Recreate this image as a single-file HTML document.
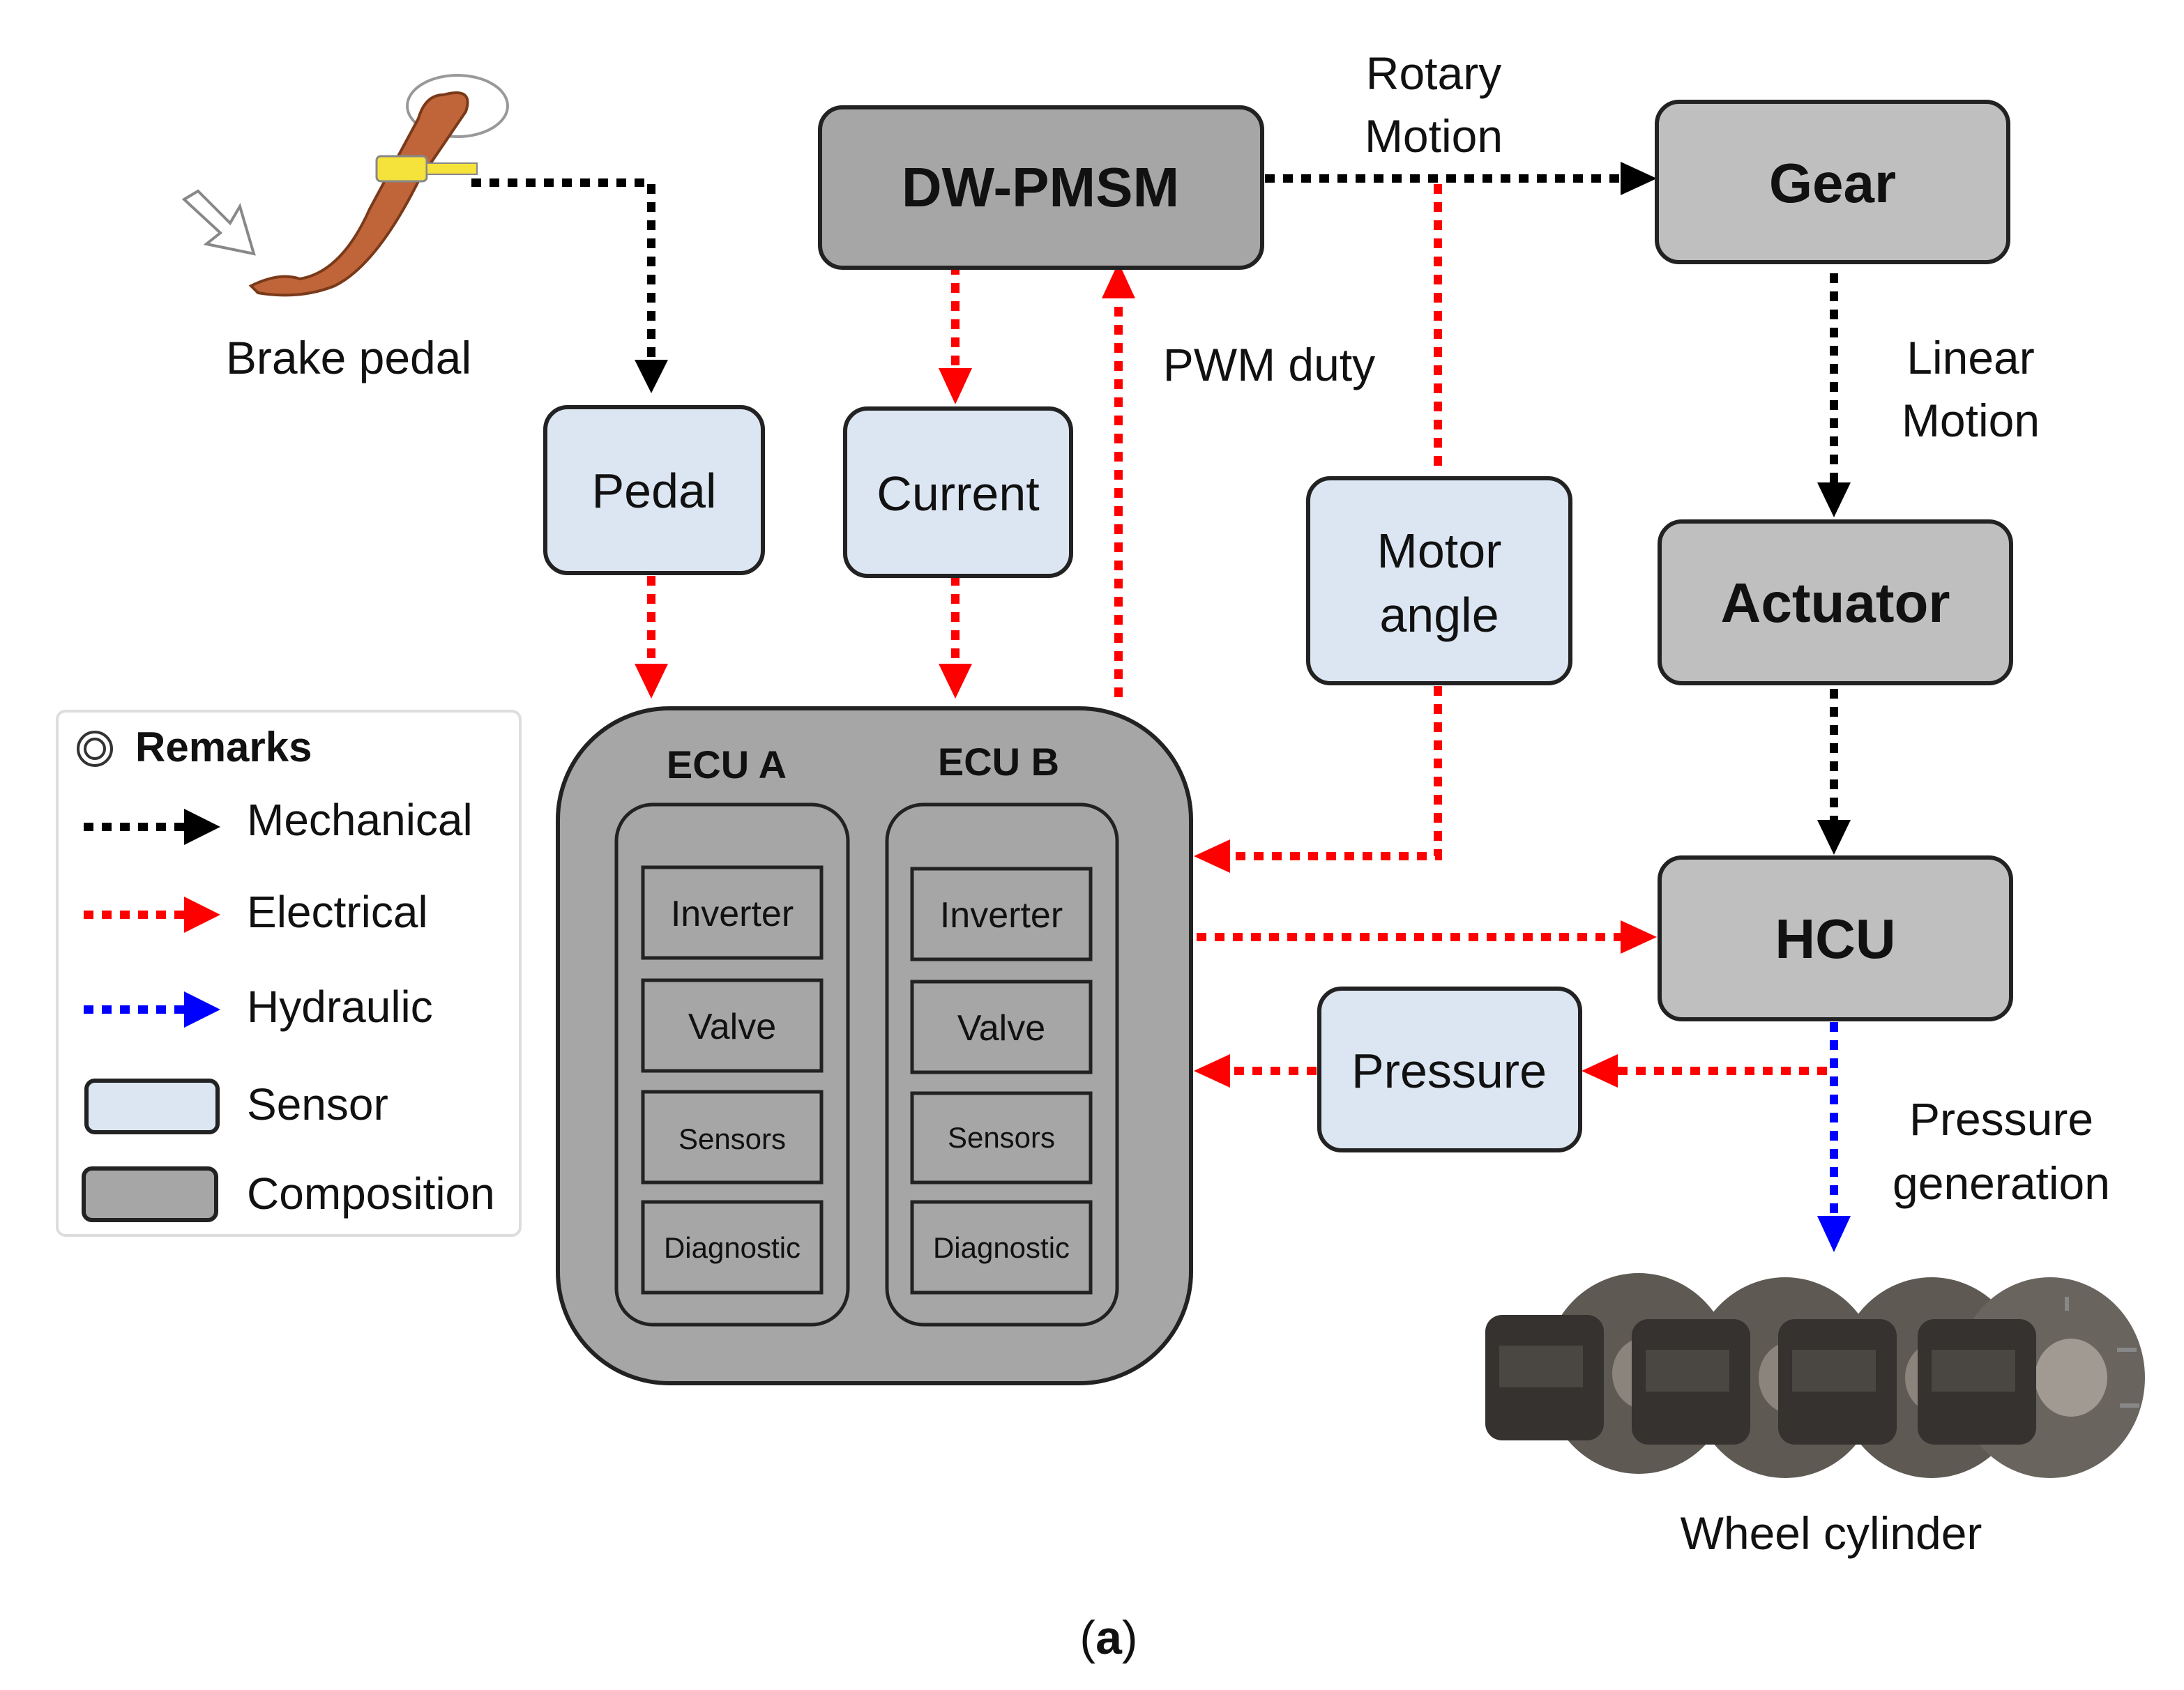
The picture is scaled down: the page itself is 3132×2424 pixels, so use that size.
<!DOCTYPE html>
<html><head><meta charset="utf-8"><style>
html,body{margin:0;padding:0;background:#fff;}
svg{display:block;}
text{font-family:"Liberation Sans","DejaVu Sans",sans-serif;}
</style></head><body>
<svg width="3132" height="2424" viewBox="0 0 1566 1212" xmlns="http://www.w3.org/2000/svg">
<rect width="1566" height="1212" fill="#fff"/>

<!-- connectors -->
<g fill="none" stroke-width="6" stroke-dasharray="7 6">
 <path d="M338,131 H467 V262" stroke="#000"/>
 <path d="M907,128 H1165" stroke="#000"/>
 <path d="M1315,196 V350" stroke="#000"/>
 <path d="M1315,494 V592" stroke="#000"/>
 <path d="M685,190 V268" stroke="#f00"/>
 <path d="M802,500 V212" stroke="#f00"/>
 <path d="M467,413 V480" stroke="#f00"/>
 <path d="M685,413 V480" stroke="#f00"/>
 <path d="M1031,132 V340" stroke="#f00"/>
 <path d="M1031,492 V614 H878" stroke="#f00"/>
 <path d="M858,672 H1166" stroke="#f00"/>
 <path d="M1310,768 H1156" stroke="#f00"/>
 <path d="M944,768 H878" stroke="#f00"/>
 <path d="M1315,733 V876" stroke="#00f"/>
</g>
<g>
 <path d="M455,258 L479,258 L467,282z" fill="#000"/>
 <path d="M1162,116 L1162,140 L1188,128z" fill="#000"/>
 <path d="M1303,346 L1327,346 L1315,371z" fill="#000"/>
 <path d="M1303,588 L1327,588 L1315,613z" fill="#000"/>
 <path d="M673,264 L697,264 L685,290z" fill="#f00"/>
 <path d="M790,214 L814,214 L802,188z" fill="#f00"/>
 <path d="M455,476 L479,476 L467,501z" fill="#f00"/>
 <path d="M673,476 L697,476 L685,501z" fill="#f00"/>
 <path d="M882,602 L882,626 L856,614z" fill="#f00"/>
 <path d="M1162,660 L1162,684 L1188,672z" fill="#f00"/>
 <path d="M1160,756 L1160,780 L1134,768z" fill="#f00"/>
 <path d="M882,756 L882,780 L856,768z" fill="#f00"/>
 <path d="M1303,872 L1327,872 L1315,898z" fill="#00f"/>
</g>

<g stroke="#222" stroke-width="3">
 <rect x="588" y="77" width="317" height="115" rx="16" fill="#a6a6a6"/>
 <rect x="1188" y="73" width="252" height="115" rx="16" fill="#bfbfbf"/>
 <rect x="1190" y="374" width="252" height="116" rx="16" fill="#bfbfbf"/>
 <rect x="1190" y="615" width="252" height="116" rx="16" fill="#bfbfbf"/>
</g>
<g font-weight="bold" text-anchor="middle" font-size="40" fill="#111">
 <text x="746" y="148">DW-PMSM</text>
 <text x="1314" y="145">Gear</text>
 <text x="1316" y="446">Actuator</text>
 <text x="1316" y="687">HCU</text>
</g>

<g stroke="#222" stroke-width="3" fill="#dce6f2">
 <rect x="391" y="292" width="156" height="119" rx="16"/>
 <rect x="606" y="293" width="162" height="120" rx="16"/>
 <rect x="938" y="343" width="188" height="147" rx="16"/>
 <rect x="946" y="709" width="187" height="116" rx="16"/>
</g>
<g text-anchor="middle" font-size="35" fill="#111">
 <text x="469" y="364">Pedal</text>
 <text x="687" y="366">Current</text>
 <text x="1032" y="407">Motor</text>
 <text x="1032" y="453">angle</text>
 <text x="1039" y="780">Pressure</text>
</g>

<rect x="400" y="508" width="454" height="484" rx="80" fill="#a6a6a6" stroke="#222" stroke-width="3"/>
<g stroke="#222" stroke-width="2.5" fill="#a6a6a6">
 <rect x="442" y="577" width="166" height="373" rx="26"/>
 <rect x="636" y="577" width="165" height="373" rx="26"/>
 <rect x="461" y="622" width="128" height="65"/>
 <rect x="461" y="703" width="128" height="65"/>
 <rect x="461" y="783" width="128" height="65"/>
 <rect x="461" y="862" width="128" height="65"/>
 <rect x="654" y="623" width="128" height="65"/>
 <rect x="654" y="704" width="128" height="65"/>
 <rect x="654" y="784" width="128" height="64"/>
 <rect x="654" y="862" width="128" height="65"/>
</g>
<g text-anchor="middle" fill="#111">
 <text x="521" y="558" font-size="28" font-weight="bold">ECU  A</text>
 <text x="716" y="556" font-size="28" font-weight="bold">ECU  B</text>
 <text x="525" y="664" font-size="26">Inverter</text>
 <text x="525" y="745" font-size="26">Valve</text>
 <text x="525" y="824" font-size="21">Sensors</text>
 <text x="525" y="902" font-size="21">Diagnostic</text>
 <text x="718" y="665" font-size="26">Inverter</text>
 <text x="718" y="746" font-size="26">Valve</text>
 <text x="718" y="823" font-size="21">Sensors</text>
 <text x="718" y="902" font-size="21">Diagnostic</text>
</g>

<g text-anchor="middle" font-size="33" fill="#111">
 <text x="1028" y="64">Rotary</text>
 <text x="1028" y="109">Motion</text>
 <text x="910" y="273">PWM duty</text>
 <text x="1413" y="268">Linear</text>
 <text x="1413" y="313">Motion</text>
 <text x="1435" y="814">Pressure</text>
 <text x="1435" y="860">generation</text>
 <text x="250" y="268">Brake pedal</text>
 <text x="1313" y="1111">Wheel cylinder</text>
</g>
<text x="795" y="1186" text-anchor="middle" font-size="34" font-family="Liberation Serif,serif" fill="#111">(<tspan font-weight="bold">a</tspan>)</text>

<rect x="41" y="510" width="332" height="376" rx="6" fill="#fff" stroke="#ddd" stroke-width="2"/>
<circle cx="68" cy="537" r="12" fill="none" stroke="#333" stroke-width="2"/>
<circle cx="68" cy="537" r="7" fill="none" stroke="#333" stroke-width="2"/>
<text x="97" y="546" font-size="30" font-weight="bold" fill="#111">Remarks</text>
<g stroke-width="6" stroke-dasharray="7 6">
 <path d="M60,593 H135" stroke="#000"/>
 <path d="M60,656 H135" stroke="#f00"/>
 <path d="M60,724 H135" stroke="#00f"/>
</g>
<path d="M132,580 L158,593 L132,606z" fill="#000"/>
<path d="M132,643 L158,656 L132,669z" fill="#f00"/>
<path d="M132,711 L158,724 L132,737z" fill="#00f"/>
<rect x="62" y="775" width="94" height="37" rx="6" fill="#dce6f2" stroke="#222" stroke-width="3"/>
<rect x="60" y="838" width="95" height="37" rx="6" fill="#a6a6a6" stroke="#222" stroke-width="3"/>
<g font-size="32" fill="#111">
 <text x="177" y="599">Mechanical</text>
 <text x="177" y="665">Electrical</text>
 <text x="177" y="733">Hydraulic</text>
 <text x="177" y="803">Sensor</text>
 <text x="177" y="867">Composition</text>
</g>

<path d="M142,137 L165,160 L172,148 L182,182 L148,175 L158,167 L132,143z" fill="#fff" stroke="#888" stroke-width="2"/>
<ellipse cx="328" cy="76" rx="36" ry="22" fill="none" stroke="#999" stroke-width="2"/>
<path d="M318,68 Q340,62 334,80 L300,130 Q270,190 240,205 Q215,215 185,210 L180,205 Q200,195 215,200 Q245,195 265,150 L300,85 Q305,68 318,68z" fill="#c0653a" stroke="#7a3a1a" stroke-width="2"/>
<rect x="270" y="112" width="36" height="18" rx="3" fill="#f5e23a" stroke="#888" stroke-width="1.5"/>
<rect x="306" y="117" width="36" height="8" fill="#f5e23a" stroke="#888" stroke-width="1"/>

<!-- wheel cylinders -->
<g>
 <g transform="translate(1120,985)">
  <ellipse cx="55" cy="0" rx="68" ry="72" fill="#5e5953"/><ellipse cx="60" cy="0" rx="24" ry="26" fill="#8a847c"/>
  <rect x="-55" y="-42" width="85" height="90" rx="12" fill="#35322f"/><rect x="-45" y="-20" width="60" height="30" fill="#4a4641"/></g>
 <g transform="translate(1225,988)">
  <ellipse cx="55" cy="0" rx="68" ry="72" fill="#5e5953"/><ellipse cx="60" cy="0" rx="24" ry="26" fill="#8a847c"/>
  <rect x="-55" y="-42" width="85" height="90" rx="12" fill="#35322f"/><rect x="-45" y="-20" width="60" height="30" fill="#4a4641"/></g>
 <g transform="translate(1330,988)">
  <ellipse cx="55" cy="0" rx="68" ry="72" fill="#5e5953"/><ellipse cx="60" cy="0" rx="24" ry="26" fill="#8a847c"/>
  <rect x="-55" y="-42" width="85" height="90" rx="12" fill="#35322f"/><rect x="-45" y="-20" width="60" height="30" fill="#4a4641"/></g>
 <g transform="translate(1430,988)">
  <ellipse cx="40" cy="0" rx="68" ry="72" fill="#6a645e"/><ellipse cx="55" cy="0" rx="26" ry="28" fill="#a09a92"/>
  <rect x="-55" y="-42" width="85" height="90" rx="12" fill="#35322f"/><rect x="-45" y="-20" width="60" height="30" fill="#4a4641"/></g>
 <g stroke="#888" stroke-width="3">
  <path d="M1518,968 h14 M1520,1008 h14 M1482,930 v10"/>
 </g>
</g>
</svg>
</body></html>
